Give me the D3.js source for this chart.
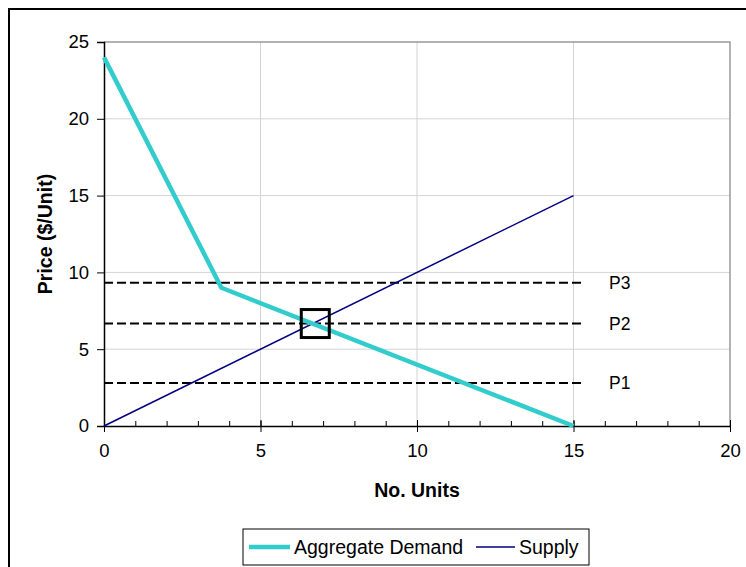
<!DOCTYPE html>
<html>
<head>
<meta charset="utf-8">
<script src="https://cdn.jsdelivr.net/npm/d3@7"></script>
<style>
  body { margin: 0; background: #fff; }
  svg { font-family: "Liberation Sans", Arial, sans-serif; display: block; }
</style>
</head>
<body>
<div id="chart"></div>
<script>
// Chart data
const demandUnits = [0, 3.75, 15];
const demandPrice = [24, 9, 0];
const supplyUnits = [0, 15];
const supplyPrice = [0, 15];
const priceLevels = [9.33, 6.67, 2.8];
const priceLabels = ["P3", "P2", "P1"];
const priceLineEnd = 15.3;
const equilibrium = [6.75, 6.67];
const xTicks = [0, 5, 10, 15, 20];
const yTicks = [0, 5, 10, 15, 20, 25];
const seriesNames = ["Aggregate Demand", "Supply"];

const width = 746;
const height = 567;

const svg = d3.select("#chart")
    .append("svg")
    .attr("width", width)
    .attr("height", height);

// Outer chart border (runs off the right and bottom edge)
svg.append("rect")
    .attr("x", 9)
    .attr("y", 9)
    .attr("width", 760)
    .attr("height", 580)
    .attr("fill", "none")
    .attr("stroke", "#000")
    .attr("stroke-width", 2);

const x = d3.scaleLinear().domain([0, 20]).range([104, 730]);
const y = d3.scaleLinear().domain([0, 25]).range([426, 42]);

// Gridlines
svg.append("g")
    .selectAll("line")
    .data(xTicks.slice(1, -1))
    .enter().append("line")
    .attr("x1", d => x(d)).attr("x2", d => x(d))
    .attr("y1", y(0)).attr("y2", y(25))
    .attr("stroke", "#d4d4d4")
    .attr("stroke-width", 1);

svg.append("g")
    .selectAll("line")
    .data(yTicks.slice(1, -1))
    .enter().append("line")
    .attr("x1", x(0)).attr("x2", x(20))
    .attr("y1", d => y(d)).attr("y2", d => y(d))
    .attr("stroke", "#d4d4d4")
    .attr("stroke-width", 1);

// Top and right plot border
svg.append("path")
    .attr("d", `M${x(0)},${y(25)}H${x(20)}V${y(0)}`)
    .attr("fill", "none")
    .attr("stroke", "#999")
    .attr("stroke-width", 1.5);

// Axes
const yAxis = d3.axisLeft(y)
    .tickValues(yTicks)
    .tickSize(7)
    .tickPadding(8);

svg.append("g")
    .attr("transform", `translate(${x(0)},0)`)
    .call(yAxis)
    .call(g => g.select(".domain").attr("stroke-width", 1.5))
    .call(g => g.selectAll(".tick text")
        .attr("font-size", 18.5)
        .attr("font-family", "Liberation Sans, Arial, sans-serif"));

// minor ticks on x axis (inside)
svg.append("g")
    .attr("transform", `translate(0,${y(0)})`)
    .call(d3.axisTop(x).ticks(20).tickSize(5).tickFormat(""))
    .call(g => g.select(".domain").remove());

const xAxis = d3.axisBottom(x)
    .tickValues(xTicks)
    .tickSizeInner(6)
    .tickSizeOuter(0)
    .tickPadding(12);

svg.append("g")
    .attr("transform", `translate(0,${y(0)})`)
    .call(xAxis)
    .call(g => g.select(".domain").attr("stroke-width", 1.5))
    .call(g => g.selectAll(".tick line").attr("y1", -6))
    .call(g => g.selectAll(".tick text")
        .attr("font-size", 18.5)
        .attr("font-family", "Liberation Sans, Arial, sans-serif"));

// Axis titles
svg.append("text")
    .attr("x", (x(0) + x(20)) / 2)
    .attr("y", 497)
    .attr("text-anchor", "middle")
    .attr("font-size", 19.5)
    .attr("font-weight", "bold")
    .text("No. Units");

svg.append("text")
    .attr("transform", `translate(52,${(y(0) + y(25)) / 2}) rotate(-90)`)
    .attr("text-anchor", "middle")
    .attr("font-size", 19.5)
    .attr("font-weight", "bold")
    .text("Price ($/Unit)");

// Price level lines
const levels = priceLevels.map((p, i) => ({ p: p, label: priceLabels[i] }));

svg.append("g")
    .selectAll("line")
    .data(levels)
    .enter().append("line")
    .attr("x1", x(0)).attr("x2", x(priceLineEnd))
    .attr("y1", d => y(d.p)).attr("y2", d => y(d.p))
    .attr("stroke", "#000")
    .attr("stroke-width", 2)
    .attr("stroke-dasharray", "9,4");

svg.append("g")
    .selectAll("text")
    .data(levels)
    .enter().append("text")
    .attr("x", 609)
    .attr("y", d => y(d.p))
    .attr("dy", "0.35em")
    .attr("font-size", 17.5)
    .text(d => d.label);

// Series lines
const line = d3.line()
    .x(d => x(d[0]))
    .y(d => y(d[1]));

svg.append("path")
    .datum(supplyUnits.map((u, i) => [u, supplyPrice[i]]))
    .attr("d", line)
    .attr("fill", "none")
    .attr("stroke", "#000080")
    .attr("stroke-width", 1.5);

svg.append("path")
    .datum(demandUnits.map((u, i) => [u, demandPrice[i]]))
    .attr("d", line)
    .attr("fill", "none")
    .attr("stroke", "#33CCCC")
    .attr("stroke-width", 4.5)
    .attr("stroke-linejoin", "round");

// Equilibrium marker
svg.append("rect")
    .attr("x", x(equilibrium[0]) - 14)
    .attr("y", y(equilibrium[1]) - 14)
    .attr("width", 28)
    .attr("height", 28)
    .attr("fill", "none")
    .attr("stroke", "#000")
    .attr("stroke-width", 3);

// Legend
const legend = svg.append("g")
    .attr("transform", "translate(243,529)");

legend.append("rect")
    .attr("width", 346)
    .attr("height", 36)
    .attr("fill", "#fff")
    .attr("stroke", "#000")
    .attr("stroke-width", 1);

const legendItems = [
    { name: seriesNames[0], x1: 6, x2: 47, tx: 51, color: "#33CCCC", w: 4.5 },
    { name: seriesNames[1], x1: 233, x2: 272, tx: 276, color: "#000080", w: 1.5 }
];

legend.selectAll("line")
    .data(legendItems)
    .enter().append("line")
    .attr("x1", d => d.x1).attr("x2", d => d.x2)
    .attr("y1", 18).attr("y2", 18)
    .attr("stroke", d => d.color)
    .attr("stroke-width", d => d.w);

legend.selectAll("text")
    .data(legendItems)
    .enter().append("text")
    .attr("x", d => d.tx)
    .attr("y", 18)
    .attr("dy", "0.36em")
    .attr("font-size", 19.5)
    .text(d => d.name);
</script>
</body>
</html>
